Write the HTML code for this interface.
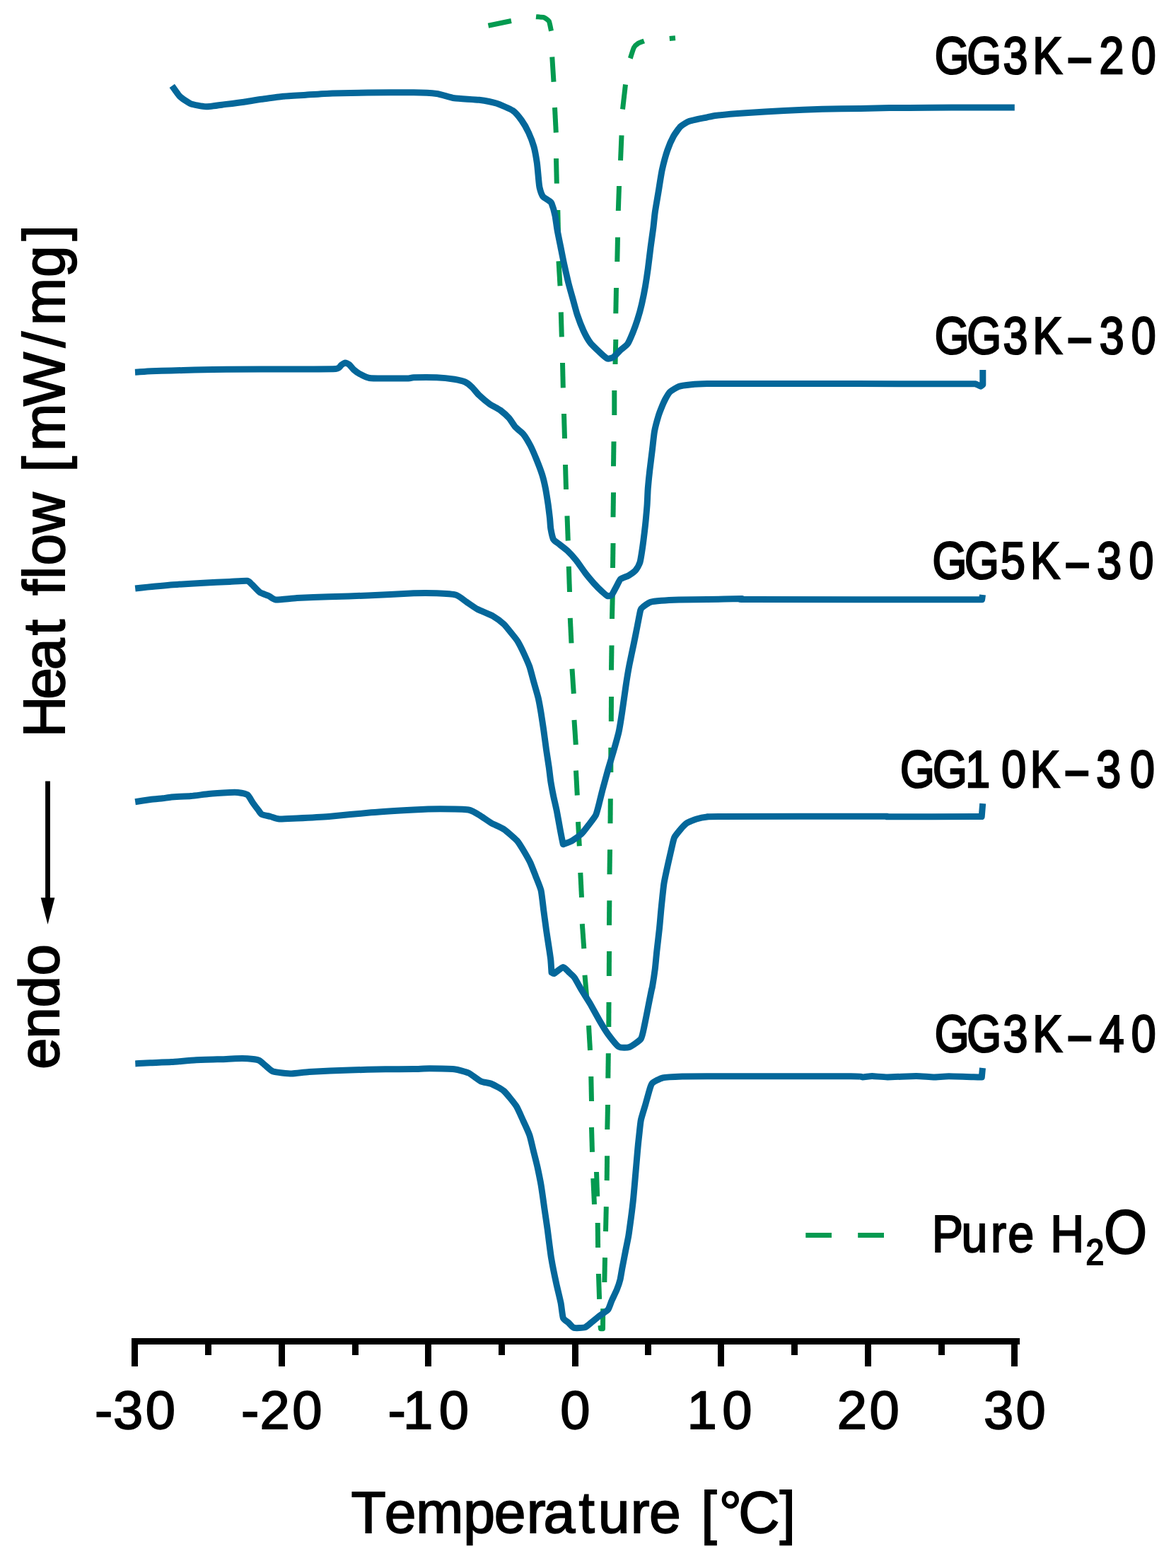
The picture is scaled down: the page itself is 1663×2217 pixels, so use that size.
<!DOCTYPE html>
<html lang="en">
<head>
<meta charset="utf-8">
<title>DSC heat flow curves</title>
<style>
html,body{margin:0;padding:0;background:#fff;}
body{width:1663px;height:2217px;overflow:hidden;}
svg{display:block;}
text{font-family:"Liberation Sans",sans-serif;fill:#000;text-rendering:geometricPrecision;stroke-linejoin:miter;}
</style>
</head>
<body>
<svg width="1663" height="2217" viewBox="0 0 1663 2217" role="img" aria-label="DSC heat flow curves versus temperature">
<rect x="0" y="0" width="1663" height="2217" fill="#fff"/>

<g id="water" stroke-linejoin="round" stroke-linecap="butt">
<path d="M690.5,36.3 L723.0,29.5" fill="none" stroke="#039A50" stroke-width="7.0" />
<path d="M758.0,23.8 C759.0,23.9 767.1,23.9 768.8,24.5 C770.5,25.1 775.3,28.2 776.3,30.0 C777.3,31.8 779.2,42.5 779.5,43.8" fill="none" stroke="#039A50" stroke-width="7.0" />
<path d="M780.8,80.5 L783.0,115.8" fill="none" stroke="#039A50" stroke-width="7.0" />
<path d="M784.5,152.0 L786.3,187.5" fill="none" stroke="#039A50" stroke-width="7.0" />
<path d="M786.5,224.0 L787.3,259.5" fill="none" stroke="#039A50" stroke-width="7.0" />
<path d="M788.8,297.0 L789.6,332.5" fill="none" stroke="#039A50" stroke-width="7.0" />
<path d="M790.0,369.3 L792.0,404.3" fill="none" stroke="#039A50" stroke-width="7.0" />
<path d="M793.3,441.3 L794.3,476.3" fill="none" stroke="#039A50" stroke-width="7.0" />
<path d="M795.5,513.0 L796.3,548.3" fill="none" stroke="#039A50" stroke-width="7.0" />
<path d="M797.5,585.0 L798.5,620.0" fill="none" stroke="#039A50" stroke-width="7.0" />
<path d="M799.5,657.0 L800.5,692.0" fill="none" stroke="#039A50" stroke-width="7.0" />
<path d="M802.0,729.3 L803.3,764.5" fill="none" stroke="#039A50" stroke-width="7.0" />
<path d="M804.3,800.8 L805.5,837.0" fill="none" stroke="#039A50" stroke-width="7.0" />
<path d="M806.3,873.8 L808.0,909.3" fill="none" stroke="#039A50" stroke-width="7.0" />
<path d="M809.0,945.8 L811.3,980.8" fill="none" stroke="#039A50" stroke-width="7.0" />
<path d="M812.0,1018.0 L814.3,1053.0" fill="none" stroke="#039A50" stroke-width="7.0" />
<path d="M814.5,1089.5 L816.3,1124.5" fill="none" stroke="#039A50" stroke-width="7.0" />
<path d="M817.5,1162.0 L819.3,1196.3" fill="none" stroke="#039A50" stroke-width="7.0" />
<path d="M820.8,1233.8 L822.5,1268.8" fill="none" stroke="#039A50" stroke-width="7.0" />
<path d="M823.3,1306.3 L825.8,1341.3" fill="none" stroke="#039A50" stroke-width="7.0" />
<path d="M827.0,1378.8 L830.0,1413.8" fill="none" stroke="#039A50" stroke-width="7.0" />
<path d="M832.5,1450.0 L834.5,1485.0" fill="none" stroke="#039A50" stroke-width="7.0" />
<path d="M835.8,1522.0 L836.5,1557.0" fill="none" stroke="#039A50" stroke-width="7.0" />
<path d="M836.5,1593.8 L837.5,1628.8" fill="none" stroke="#039A50" stroke-width="7.0" />
<path d="M838.8,1666.1 L840.5,1702.9" fill="none" stroke="#039A50" stroke-width="7.0" />
<path d="M843.5,1657.0 L844.7,1691.7" fill="none" stroke="#039A50" stroke-width="7.0" />
<path d="M845.2,1729.0 L845.6,1764.0" fill="none" stroke="#039A50" stroke-width="7.0" />
<path d="M846.4,1801.0 L847.6,1836.9" fill="none" stroke="#039A50" stroke-width="7.0" />
<path d="M848.9,1874.0 L849.5,1878.8 L852.5,1878.8 L852.7,1850.2" fill="none" stroke="#039A50" stroke-width="7.0" />
<path d="M855.5,1778.1 L854.8,1813.0" fill="none" stroke="#039A50" stroke-width="7.0" />
<path d="M857.3,1706.2 L856.5,1741.1" fill="none" stroke="#039A50" stroke-width="7.0" />
<path d="M858.6,1634.2 L858.2,1669.1" fill="none" stroke="#039A50" stroke-width="7.0" />
<path d="M859.5,1562.0 L858.8,1597.0" fill="none" stroke="#039A50" stroke-width="7.0" />
<path d="M860.3,1489.3 L859.8,1524.5" fill="none" stroke="#039A50" stroke-width="7.0" />
<path d="M861.0,1417.0 L860.8,1452.0" fill="none" stroke="#039A50" stroke-width="7.0" />
<path d="M861.5,1345.0 L861.3,1380.0" fill="none" stroke="#039A50" stroke-width="7.0" />
<path d="M861.8,1273.3 L861.5,1308.3" fill="none" stroke="#039A50" stroke-width="7.0" />
<path d="M862.5,1201.3 L862.0,1236.3" fill="none" stroke="#039A50" stroke-width="7.0" />
<path d="M863.3,1129.3 L863.0,1164.3" fill="none" stroke="#039A50" stroke-width="7.0" />
<path d="M863.8,1057.0 L863.8,1092.0" fill="none" stroke="#039A50" stroke-width="7.0" />
<path d="M864.5,985.0 L864.3,1020.0" fill="none" stroke="#039A50" stroke-width="7.0" />
<path d="M865.0,912.5 L864.5,947.5" fill="none" stroke="#039A50" stroke-width="7.0" />
<path d="M866.3,840.0 L865.5,875.0" fill="none" stroke="#039A50" stroke-width="7.0" />
<path d="M867.0,768.0 L866.5,803.0" fill="none" stroke="#039A50" stroke-width="7.0" />
<path d="M867.5,696.3 L867.0,731.3" fill="none" stroke="#039A50" stroke-width="7.0" />
<path d="M868.0,624.3 L867.5,659.3" fill="none" stroke="#039A50" stroke-width="7.0" />
<path d="M868.8,552.0 L868.8,587.0" fill="none" stroke="#039A50" stroke-width="7.0" />
<path d="M870.8,480.0 L870.0,515.0" fill="none" stroke="#039A50" stroke-width="7.0" />
<path d="M871.5,407.0 L870.8,443.3" fill="none" stroke="#039A50" stroke-width="7.0" />
<path d="M873.5,335.5 L872.8,370.0" fill="none" stroke="#039A50" stroke-width="7.0" />
<path d="M875.5,263.0 L874.3,298.0" fill="none" stroke="#039A50" stroke-width="7.0" />
<path d="M879.0,191.3 L877.5,226.8" fill="none" stroke="#039A50" stroke-width="7.0" />
<path d="M884.5,119.5 L880.5,154.5" fill="none" stroke="#039A50" stroke-width="7.0" />
<path d="M891.3,82.5 C891.8,81.1 895.3,69.5 896.3,67.5 C897.3,65.5 901.1,62.2 902.5,61.3 C903.9,60.4 910.0,58.3 910.8,58.0" fill="none" stroke="#039A50" stroke-width="7.0" />
<path d="M946.8,54.5 L955.0,53.8" fill="none" stroke="#039A50" stroke-width="7.0" />
</g>
<g id="curves" stroke-linejoin="round" stroke-linecap="butt">
<path d="M243.3,121.4 C244.3,122.8 251.9,133.9 254.3,136.3 C256.7,138.7 266.0,145.2 269.5,146.6 C273.0,148.0 286.6,150.7 291.3,150.8 C296.0,150.9 315.0,148.0 320.0,147.4 C325.0,146.8 340.3,144.9 345.0,144.2 C349.7,143.5 364.9,141.0 370.0,140.3 C375.1,139.6 394.2,136.8 400.0,136.2 C405.8,135.6 426.0,134.6 432.5,134.2 C439.0,133.8 461.8,132.3 470.0,132.0 C478.2,131.7 509.3,131.1 520.0,131.0 C530.7,130.9 575.9,130.7 585.0,130.8 C594.1,130.9 612.1,131.8 617.5,132.5 C622.9,133.2 636.9,138.0 642.5,138.8 C648.1,139.6 671.9,140.6 677.5,141.3 C683.1,142.0 698.1,144.9 702.5,146.3 C706.9,147.7 721.7,154.1 725.0,156.3 C728.3,158.5 735.4,167.1 737.5,170.0 C739.6,172.9 745.9,184.0 747.5,187.5 C749.1,191.0 753.9,203.5 755.0,207.5 C756.1,211.5 758.7,226.0 759.3,230.0 C759.9,234.0 761.0,246.7 761.3,250.0 C761.6,253.3 762.4,262.4 763.0,265.0 C763.6,267.6 766.3,275.7 767.5,277.5 C768.7,279.3 775.1,282.9 776.3,283.8 C777.5,284.7 779.2,285.5 780.0,287.5 C780.8,289.5 784.3,301.5 785.0,305.0 C785.7,308.5 787.3,321.0 788.0,325.0 C788.7,329.0 791.6,343.1 792.5,347.5 C793.4,351.9 796.4,367.6 797.5,372.5 C798.6,377.4 802.6,395.3 803.8,400.0 C805.0,404.7 808.8,418.3 810.0,422.5 C811.2,426.7 814.9,440.8 816.3,445.0 C817.7,449.2 823.3,463.8 825.0,467.5 C826.7,471.2 832.9,482.2 835.0,485.0 C837.1,487.8 845.3,495.4 847.5,497.5 C849.7,499.6 856.9,506.3 858.8,507.0 C860.7,507.7 865.8,506.1 867.5,505.0 C869.2,503.9 875.6,496.7 877.5,495.0 C879.4,493.3 885.9,488.6 887.5,486.3 C889.1,484.0 893.7,473.2 895.0,470.0 C896.3,466.8 900.1,456.2 901.3,452.5 C902.5,448.8 906.5,434.4 907.5,430.0 C908.5,425.6 911.7,409.7 912.5,405.0 C913.3,400.3 915.6,385.1 916.3,380.0 C917.0,374.9 919.3,355.4 920.0,350.0 C920.7,344.6 923.2,327.2 923.8,322.5 C924.4,317.8 925.6,304.9 926.3,300.0 C927.0,295.1 930.4,275.6 931.3,270.0 C932.2,264.4 935.1,245.4 936.3,240.0 C937.5,234.6 942.3,216.9 943.8,212.5 C945.3,208.1 950.8,195.6 952.5,192.5 C954.2,189.4 960.4,180.8 962.5,178.8 C964.6,176.8 971.5,172.5 975.0,171.3 C978.5,170.1 996.4,166.6 1000.0,165.8 C1003.6,165.0 1008.5,163.8 1013.6,163.2 C1018.7,162.6 1045.3,160.3 1054.2,159.7 C1063.1,159.1 1098.4,156.9 1108.5,156.4 C1118.6,155.9 1152.6,154.5 1162.7,154.2 C1172.8,153.9 1208.1,153.5 1217.0,153.4 C1225.9,153.3 1248.8,152.7 1257.7,152.6 C1266.6,152.5 1300.5,152.4 1311.9,152.3 C1323.3,152.2 1368.2,152.0 1379.7,152.0 C1391.2,152.0 1429.7,152.0 1434.8,152.0" fill="none" stroke="#04679A" stroke-width="9.0" />
<path d="M191.0,526.2 C193.1,526.1 209.2,524.9 214.0,524.7 C218.8,524.5 236.8,524.2 242.5,524.0 C248.2,523.8 267.8,523.2 275.0,523.0 C282.2,522.8 306.5,522.3 320.0,522.2 C333.5,522.1 405.5,522.1 420.0,522.0 C434.5,521.9 469.2,522.0 475.0,521.5 C480.8,521.0 481.3,517.1 482.5,516.3 C483.7,515.5 486.9,513.1 488.0,513.0 C489.1,512.9 492.7,514.6 493.8,515.5 C494.9,516.4 498.6,521.3 500.0,522.5 C501.4,523.7 506.7,527.7 508.8,528.8 C510.9,529.9 519.1,533.9 522.5,534.5 C525.9,535.1 539.9,535.0 545.0,535.0 C550.1,535.0 573.8,535.1 577.5,535.0 C581.2,534.9 581.3,533.9 585.0,533.8 C588.7,533.7 612.1,533.6 617.5,533.8 C622.9,534.0 638.8,535.7 642.5,536.3 C646.2,536.9 655.2,539.0 657.5,540.0 C659.8,541.0 665.6,545.7 667.5,547.5 C669.4,549.3 675.2,556.6 677.5,558.8 C679.8,561.0 689.7,569.3 692.5,571.3 C695.3,573.3 704.9,578.1 707.5,580.0 C710.1,581.9 718.0,589.1 720.0,591.3 C722.0,593.5 726.9,601.7 728.8,603.8 C730.7,605.9 738.0,611.4 740.0,613.8 C742.0,616.2 748.2,626.6 750.0,630.0 C751.8,633.4 757.3,646.3 758.8,650.0 C760.3,653.7 765.1,666.3 766.3,670.0 C767.5,673.7 770.5,686.0 771.3,690.0 C772.1,694.0 774.4,708.5 775.0,712.5 C775.6,716.5 777.1,729.2 777.5,732.5 C777.9,735.8 778.3,744.7 778.8,747.5 C779.3,750.3 781.5,760.5 782.5,762.5 C783.5,764.5 788.1,767.3 790.0,768.8 C791.9,770.3 800.2,776.6 802.5,778.8 C804.8,781.0 812.7,789.6 815.0,792.5 C817.3,795.4 825.2,807.0 827.5,810.0 C829.8,813.0 837.8,822.5 840.0,825.0 C842.2,827.5 849.5,834.7 851.3,836.3 C853.1,837.9 857.5,842.0 858.8,842.5 C860.1,843.0 863.8,842.5 865.0,841.3 C866.2,840.1 870.1,832.1 871.3,830.0 C872.5,827.9 875.9,820.3 877.5,818.8 C879.1,817.3 886.8,815.0 888.8,813.8 C890.8,812.6 897.3,808.1 898.8,806.3 C900.3,804.5 904.1,798.2 905.0,795.0 C905.9,791.8 908.1,777.4 908.8,772.5 C909.5,767.6 911.9,747.9 912.5,742.5 C913.1,737.1 914.6,719.9 915.0,715.0 C915.4,710.1 915.9,694.7 916.3,690.0 C916.7,685.3 918.2,670.1 918.8,665.0 C919.4,659.9 921.9,640.1 922.5,635.0 C923.1,629.9 924.7,614.4 925.5,610.0 C926.3,605.6 930.3,590.8 931.3,587.5 C932.3,584.2 935.1,577.2 936.0,575.0 C936.9,572.8 939.9,566.0 941.0,564.0 C942.1,562.0 945.7,555.6 947.5,554.0 C949.3,552.4 957.2,547.5 960.0,546.5 C962.8,545.5 973.8,544.2 977.5,543.8 C981.2,543.4 994.6,542.7 1000.0,542.6 C1005.4,542.5 1015.3,542.4 1035.0,542.4 C1054.7,542.4 1179.4,542.6 1211.6,542.6 C1243.8,542.6 1364.0,542.8 1379.7,542.8 C1380.4,543.1 1386.1,545.9 1386.8,546.2 C1387.1,546.0 1389.5,544.2 1389.8,544.0 C1389.8,542.0 1389.8,525.1 1389.8,523.1" fill="none" stroke="#04679A" stroke-width="9.0" />
<path d="M191.2,832.0 C193.9,831.7 214.3,829.5 220.0,829.0 C225.7,828.5 246.2,826.7 252.5,826.3 C258.8,825.9 280.7,824.6 287.5,824.2 C294.3,823.8 319.2,822.8 325.0,822.5 C330.8,822.2 346.6,820.9 349.5,821.3 C352.4,821.7 354.6,824.8 356.3,826.3 C358.0,827.8 365.3,836.0 367.5,837.5 C369.7,839.0 377.9,841.5 380.0,842.5 C382.1,843.5 386.3,847.7 390.0,848.0 C393.7,848.3 413.0,845.9 420.0,845.5 C427.0,845.1 455.7,844.1 465.0,843.8 C474.3,843.5 508.8,842.5 520.0,842.0 C531.2,841.5 575.9,839.1 585.0,838.8 C594.1,838.5 611.9,838.6 617.5,838.8 C623.1,839.0 641.0,840.1 645.0,841.3 C649.0,842.5 657.2,849.4 660.0,851.3 C662.8,853.2 671.5,859.4 675.0,861.3 C678.5,863.2 694.0,869.3 697.5,871.3 C701.0,873.3 709.9,880.1 712.5,882.5 C715.1,884.9 723.1,895.2 725.0,897.5 C726.9,899.8 731.0,904.9 732.5,907.5 C734.0,910.1 739.8,921.7 741.3,925.0 C742.8,928.3 747.5,938.8 748.8,942.5 C750.1,946.2 753.8,960.8 755.0,965.0 C756.2,969.2 760.4,983.5 761.3,987.5 C762.2,991.5 764.3,1003.3 765.0,1007.5 C765.7,1011.7 768.1,1027.6 768.8,1032.5 C769.5,1037.4 771.8,1055.1 772.5,1060.0 C773.2,1064.9 775.7,1080.8 776.3,1085.0 C776.9,1089.2 778.2,1101.3 778.8,1105.0 C779.4,1108.7 781.7,1121.0 782.5,1125.0 C783.3,1129.0 786.6,1142.8 787.5,1147.5 C788.4,1152.2 791.7,1170.7 792.5,1175.0 C793.3,1179.3 795.9,1192.0 796.3,1193.8 C797.5,1193.3 806.4,1190.2 808.8,1188.8 C811.2,1187.4 820.3,1180.9 822.5,1178.8 C824.7,1176.7 830.6,1168.8 832.5,1166.3 C834.4,1163.8 841.1,1155.4 842.5,1152.5 C843.9,1149.6 846.6,1138.5 847.5,1135.0 C848.4,1131.5 851.3,1119.4 852.5,1115.0 C853.7,1110.6 858.6,1092.4 860.0,1087.5 C861.4,1082.6 866.1,1067.4 867.5,1062.5 C868.9,1057.6 873.8,1040.4 875.0,1035.0 C876.2,1029.6 879.1,1011.1 880.0,1005.0 C880.9,998.9 884.1,976.1 885.0,970.0 C885.9,963.9 888.9,945.6 890.0,940.0 C891.1,934.4 895.2,915.1 896.3,910.0 C897.4,904.9 900.4,889.4 901.3,885.0 C902.2,880.6 905.0,865.1 905.8,862.5 C906.6,859.9 908.7,858.5 910.0,857.5 C911.3,856.5 917.7,852.1 920.0,851.3 C922.3,850.5 931.3,849.6 935.0,849.3 C938.7,849.0 953.9,848.2 960.0,848.0 C966.1,847.8 991.7,847.6 1000.0,847.5 C1008.3,847.4 1043.0,846.6 1048.8,846.6 C1054.6,846.6 1032.0,847.5 1062.4,847.6 C1092.8,847.7 1345.2,847.7 1374.3,847.7 C1375.6,847.7 1387.3,847.7 1388.6,847.7 C1388.7,847.1 1389.4,841.6 1389.5,841.0" fill="none" stroke="#04679A" stroke-width="9.0" />
<path d="M191.2,1133.7 C193.2,1133.4 208.9,1131.0 212.5,1130.5 C216.1,1130.0 227.2,1129.1 230.0,1128.8 C232.8,1128.5 238.8,1127.3 242.5,1127.0 C246.2,1126.7 265.1,1125.9 270.0,1125.5 C274.9,1125.1 289.9,1123.0 295.0,1122.5 C300.1,1122.0 321.1,1120.7 325.0,1120.5 C328.9,1120.3 334.0,1120.2 336.3,1120.5 C338.6,1120.8 348.0,1122.4 350.0,1123.8 C352.0,1125.2 356.1,1133.0 357.5,1135.0 C358.9,1137.0 363.8,1143.5 365.0,1145.0 C366.2,1146.5 368.4,1150.4 370.0,1151.3 C371.6,1152.2 380.2,1153.9 382.5,1154.5 C384.8,1155.1 391.5,1157.8 395.0,1158.0 C398.5,1158.2 413.5,1157.3 420.0,1157.0 C426.5,1156.7 455.2,1155.3 465.0,1154.5 C474.8,1153.7 513.8,1149.7 525.0,1148.8 C536.2,1147.9 575.9,1145.5 585.0,1145.0 C594.1,1144.5 615.3,1143.8 622.5,1143.8 C629.7,1143.8 657.1,1144.1 662.5,1145.0 C667.9,1145.9 677.0,1152.0 680.0,1153.8 C683.0,1155.6 692.0,1162.1 695.0,1163.8 C698.0,1165.5 709.1,1170.2 712.5,1172.5 C715.9,1174.8 728.5,1185.6 731.3,1188.8 C734.1,1192.0 740.8,1203.4 742.5,1206.3 C744.2,1209.2 748.6,1217.0 750.0,1220.0 C751.4,1223.0 756.1,1235.2 757.5,1238.8 C758.9,1242.4 763.9,1254.3 765.0,1258.8 C766.1,1263.3 768.1,1282.3 768.8,1287.5 C769.5,1292.7 771.8,1310.1 772.5,1315.0 C773.2,1319.9 775.7,1336.0 776.3,1340.0 C776.9,1344.0 778.5,1354.2 778.8,1357.5 C779.1,1360.8 779.9,1373.4 780.0,1375.0 C780.4,1375.1 782.3,1377.0 783.8,1376.3 C785.3,1375.6 794.3,1367.6 796.3,1367.5 C798.3,1367.4 803.5,1373.6 805.0,1375.0 C806.5,1376.4 810.9,1380.2 812.5,1382.5 C814.1,1384.8 820.4,1396.5 822.5,1400.0 C824.6,1403.5 832.7,1416.0 835.0,1420.0 C837.3,1424.0 845.2,1438.5 847.5,1442.5 C849.8,1446.5 857.4,1459.0 860.0,1462.5 C862.6,1466.0 872.2,1478.3 875.0,1480.0 C877.8,1481.7 887.1,1481.5 890.0,1480.5 C892.9,1479.5 904.3,1471.6 906.3,1468.8 C908.3,1466.0 910.4,1454.1 911.3,1450.0 C912.2,1445.9 915.4,1429.7 916.3,1425.0 C917.2,1420.3 920.7,1402.8 921.3,1400.0 C921.9,1397.2 922.0,1397.8 922.5,1395.0 C923.0,1392.2 925.7,1374.7 926.3,1370.0 C926.9,1365.3 928.2,1350.4 928.8,1345.0 C929.4,1339.6 931.9,1318.1 932.5,1312.5 C933.1,1306.9 934.4,1290.8 935.0,1285.0 C935.6,1279.2 937.9,1256.1 938.8,1250.0 C939.7,1243.9 943.8,1225.4 945.0,1220.0 C946.2,1214.6 950.5,1195.9 951.3,1192.5 C952.1,1189.1 952.8,1185.7 953.8,1183.8 C954.8,1181.9 960.9,1174.4 962.5,1172.5 C964.1,1170.6 969.2,1165.2 971.3,1163.8 C973.4,1162.4 982.3,1158.8 985.0,1158.0 C987.7,1157.2 997.1,1155.4 1000.0,1155.1 C1002.9,1154.8 993.5,1154.6 1016.3,1154.5 C1039.1,1154.4 1221.6,1154.2 1244.1,1154.2 C1266.6,1154.2 1245.3,1154.8 1257.7,1154.8 C1270.1,1154.8 1365.9,1154.6 1377.0,1154.6 C1378.0,1154.6 1387.2,1154.6 1388.2,1154.6 C1388.3,1152.9 1389.6,1137.8 1389.7,1136.1" fill="none" stroke="#04679A" stroke-width="9.0" />
<path d="M191.3,1503.9 C193.3,1503.8 207.7,1502.9 212.5,1502.7 C217.3,1502.5 236.4,1502.0 242.5,1501.6 C248.6,1501.2 270.3,1499.2 277.5,1498.8 C284.7,1498.4 314.9,1497.7 320.0,1497.5 C325.1,1497.3 329.7,1496.9 332.5,1496.8 C335.3,1496.7 346.8,1496.6 350.0,1496.8 C353.2,1497.0 364.0,1498.4 366.3,1499.3 C368.6,1500.2 373.1,1504.8 375.0,1506.3 C376.9,1507.8 382.8,1513.9 386.3,1515.0 C389.8,1516.1 407.7,1518.0 412.5,1518.0 C417.3,1518.0 429.8,1516.0 437.5,1515.5 C445.2,1515.0 485.0,1513.3 495.0,1513.0 C505.0,1512.7 536.6,1511.9 545.0,1511.8 C553.4,1511.7 579.2,1511.6 585.0,1511.5 C590.8,1511.4 602.1,1510.8 607.5,1510.8 C612.9,1510.8 637.4,1511.2 642.5,1511.8 C647.6,1512.4 659.0,1515.4 662.5,1517.0 C666.0,1518.6 677.0,1527.4 680.0,1528.8 C683.0,1530.2 692.0,1531.2 695.0,1532.5 C698.0,1533.8 709.2,1539.6 712.5,1542.5 C715.8,1545.4 727.4,1559.8 730.0,1563.8 C732.6,1567.8 738.2,1581.2 740.0,1585.0 C741.8,1588.8 747.5,1601.3 748.8,1605.0 C750.1,1608.7 752.8,1620.8 753.8,1625.0 C754.8,1629.2 759.0,1645.3 760.0,1650.0 C761.0,1654.7 764.1,1669.7 765.0,1675.0 C765.9,1680.3 768.8,1701.0 769.6,1706.8 C770.4,1712.6 773.2,1730.8 774.1,1737.5 C775.0,1744.2 778.4,1771.8 779.6,1779.1 C780.8,1786.4 785.5,1809.4 786.8,1815.3 C788.1,1821.2 792.2,1837.9 793.1,1842.4 C794.0,1846.9 795.3,1860.7 796.3,1863.3 C797.3,1865.9 802.7,1869.1 804.1,1870.4 C805.5,1871.7 809.6,1876.8 811.7,1877.4 C813.8,1878.0 824.7,1877.5 827.0,1876.8 C829.3,1876.1 834.4,1871.4 836.4,1869.8 C838.4,1868.2 846.6,1861.5 848.8,1859.8 C851.0,1858.1 858.4,1853.6 859.9,1851.6 C861.4,1849.6 864.0,1841.2 865.2,1838.6 C866.4,1836.0 871.2,1826.1 872.3,1823.4 C873.4,1820.7 876.3,1812.2 877.0,1809.3 C877.7,1806.4 879.2,1796.3 879.9,1792.8 C880.6,1789.3 883.2,1775.8 884.0,1771.6 C884.8,1767.4 887.9,1752.7 888.7,1748.1 C889.5,1743.5 891.6,1727.5 892.3,1722.3 C893.0,1717.1 895.3,1698.1 895.8,1692.9 C896.3,1687.7 897.6,1672.9 898.1,1667.0 C898.6,1661.1 900.8,1635.8 901.3,1630.0 C901.8,1624.2 903.3,1609.3 903.8,1605.0 C904.3,1600.7 905.5,1587.8 906.3,1583.8 C907.1,1579.8 911.3,1566.6 912.5,1562.5 C913.7,1558.4 917.9,1542.9 918.8,1540.0 C919.7,1537.1 920.8,1532.8 922.5,1531.3 C924.2,1529.8 933.5,1524.7 937.5,1523.8 C941.5,1522.9 959.2,1522.2 965.0,1522.0 C970.8,1521.8 977.7,1521.8 1000.0,1521.8 C1022.3,1521.8 1182.9,1521.7 1203.4,1521.8 C1223.9,1521.9 1216.9,1522.9 1219.7,1522.9 C1222.5,1522.9 1230.0,1521.6 1233.3,1521.6 C1236.6,1521.6 1249.2,1522.9 1255.0,1522.9 C1260.8,1522.9 1289.6,1521.6 1295.7,1521.6 C1301.8,1521.6 1315.7,1522.9 1320.0,1522.9 C1324.3,1522.9 1336.5,1521.8 1341.8,1521.8 C1347.1,1521.8 1373.7,1522.7 1377.0,1522.8 C1378.1,1522.8 1387.2,1523.0 1388.3,1523.0 C1388.4,1521.8 1389.4,1511.2 1389.5,1510.0" fill="none" stroke="#04679A" stroke-width="9.0" />
</g>
<g id="axis" fill="#000">
<rect x="186" y="1892" width="1256" height="9"/>
<rect x="186" y="1892" width="9" height="40"/>
<rect x="290" y="1892" width="9" height="24"/>
<rect x="394" y="1892" width="9" height="40"/>
<rect x="498" y="1892" width="9" height="24"/>
<rect x="601" y="1892" width="9" height="40"/>
<rect x="705" y="1892" width="9" height="24"/>
<rect x="809" y="1892" width="9" height="40"/>
<rect x="912" y="1892" width="9" height="24"/>
<rect x="1015" y="1892" width="9" height="40"/>
<rect x="1119" y="1892" width="9" height="24"/>
<rect x="1223" y="1892" width="9" height="40"/>
<rect x="1327" y="1892" width="9" height="24"/>
<rect x="1430" y="1892" width="9" height="40"/>
</g>
<g id="labels">
<text id="tm30" font-size="76" stroke="#000" stroke-width="1.8" transform="scale(1.0000,1)" x="134.00 160.09 205.77" y="2020.30">-30</text>
<text id="tm20" font-size="76" stroke="#000" stroke-width="1.8" transform="scale(1.0000,1)" x="340.90 367.47 413.37" y="2020.30">-20</text>
<text id="tm10" font-size="76" stroke="#000" stroke-width="1.8" transform="scale(1.0000,1)" x="548.45 569.98 620.77" y="2020.30">-10</text>
<text id="t0" font-size="76" stroke="#000" stroke-width="1.8" transform="scale(1.0000,1)" x="792.32" y="2020.30">0</text>
<text id="t10" font-size="76" stroke="#000" stroke-width="1.8" transform="scale(1.0000,1)" x="971.43 1021.37" y="2020.30">10</text>
<text id="t20" font-size="76" stroke="#000" stroke-width="1.8" transform="scale(1.0000,1)" x="1183.82 1229.47" y="2020.30">20</text>
<text id="t30" font-size="76" stroke="#000" stroke-width="1.8" transform="scale(1.0000,1)" x="1390.94 1436.52" y="2020.30">30</text>
<text id="l1" aria-label="GG3K-20" font-size="73.8" stroke="#000" stroke-width="2.7" transform="scale(0.8500,1)" x="1554.96 1608.61 1668.81 1718.07 1774.84 1828.77 1882.18" y="104.20 104.20 104.20 104.20 110.00 104.20 104.20">GG3K−20</text>
<text id="l2" aria-label="GG3K-30" font-size="73.8" stroke="#000" stroke-width="2.7" transform="scale(0.8500,1)" x="1554.96 1608.61 1668.81 1718.07 1774.84 1828.99 1882.18" y="499.70 499.70 499.70 499.70 505.50 499.70 499.70">GG3K−30</text>
<text id="l3" aria-label="GG5K-30" font-size="73.8" stroke="#000" stroke-width="2.7" transform="scale(0.8500,1)" x="1551.08 1604.73 1664.79 1714.19 1770.96 1825.11 1878.30" y="818.20 818.20 818.20 818.20 824.00 818.20 818.20">GG5K−30</text>
<text id="l4" aria-label="GG10K-30" font-size="73.8" stroke="#000" stroke-width="2.7" transform="scale(0.8500,1)" x="1497.79 1551.73 1606.17 1666.07 1713.95 1769.96 1823.69 1880.13" y="1112.60 1112.60 1112.60 1112.60 1112.60 1118.40 1112.60 1112.60">GG10K−30</text>
<text id="l5" aria-label="GG3K-40" font-size="73.8" stroke="#000" stroke-width="2.7" transform="scale(0.8500,1)" x="1554.96 1608.61 1668.81 1718.07 1774.84 1829.01 1882.18" y="1487.00 1487.00 1487.00 1487.00 1492.80 1487.00 1487.00">GG3K−40</text>
<text id="endo" font-size="79.5" stroke="#000" stroke-width="2.2" transform="translate(82.80,0) rotate(-90) scale(0.9950,1)" x="-1519.41 -1475.88 -1431.36 -1386.07" y="0">endo</text>
<text id="heat" font-size="83" stroke="#000" stroke-width="2.0" transform="translate(90.70,0) rotate(-90) scale(0.9685,1)" x="-1076.45 -1020.82 -978.06 -927.48 -898.45 -869.42 -845.36 -825.64 -779.04 -715.68 -689.21 -658.57 -592.72 -507.16 -474.93 -404.66 -351.55" y="0">Heat flow [mW/mg]</text>
<text id="temp" font-size="83.1" stroke="#000" stroke-width="1.8" transform="scale(0.9693,1)" x="512.25 561.01 606.82 676.11 720.82 768.28 792.74 844.38 872.56 919.94 946.97 996.33 1022.56 1048.98 1077.45 1137.56" y="2166.70">Temperature [°C]</text>
<text id="leg" aria-label="Pure H2O" font-size="74" stroke="#000" stroke-width="2.2" transform="scale(0.8971,1)" x="1468.88 1515.48 1561.80 1588.85 1632.51 1655.57 1711.52 1740.10" y="1770.30 1770.30 1770.30 1770.30 1770.30 1770.30 1787.90 1771.60">Pure H<tspan font-size="51.5">2</tspan><tspan font-size="87.5">O</tspan></text>
</g>
<g id="legend-sample" fill="#039A50"><rect x="1139.3" y="1743" width="36.7" height="7"/><rect x="1213.2" y="1743" width="36.8" height="7"/></g>
<g id="arrow" fill="#000"><rect x="64.1" y="1104.5" width="6.8" height="168"/><path d="M57.7,1269.2 L77.4,1269.2 L67.5,1307 Z"/></g>
</svg>
</body>
</html>
